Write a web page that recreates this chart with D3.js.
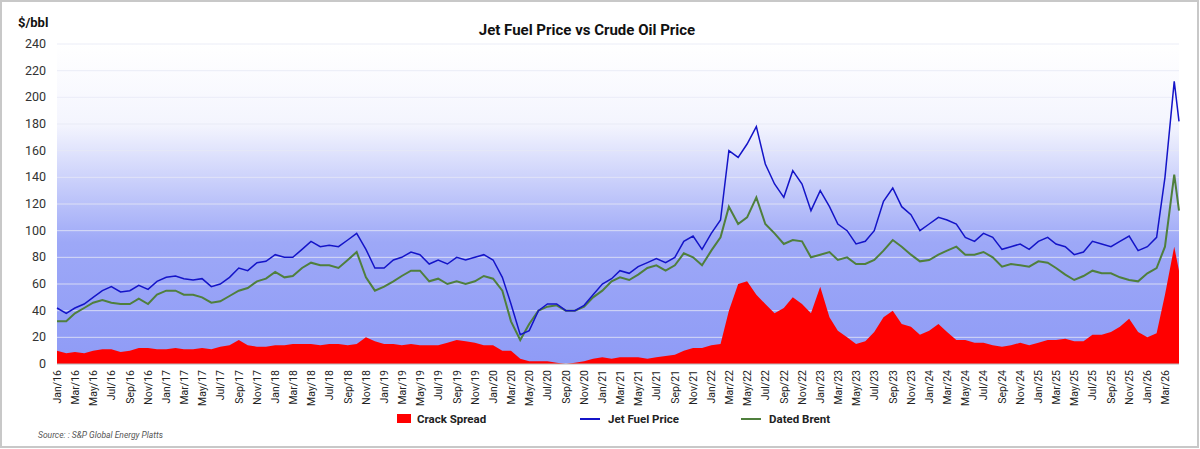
<!DOCTYPE html>
<html><head><meta charset="utf-8">
<script src="https://cdn.jsdelivr.net/npm/d3@7"></script>
<style>body{margin:0;background:#fff;font-family:Roboto,"Liberation Sans",Arial,sans-serif}</style>
</head><body><svg id="c" width="1200" height="449"></svg>
<script>
const startMonth = "2016-01";
const jetFuel = [42,38,42,45,50,55,58,54,55,59,56,62, 65,66,64,63,64,58,60,65,72,70,76,77, 82,80,80,86,92,88,89,88,93,98,86,72, 72,78,80,84,82,75,78,75,80,78,80,82, 78,65,45,22,25,40,45,45,40,40,44,52, 60,64,70,68,73,76,79,76,80,92,96,86, 98,108,160,155,165,178,150,135,125,145,135,115, 130,118,105,100,90,92,100,122,132,118,112,100, 105,110,108,105,95,92,98,95,86,88,90,86, 92,95,90,88,82,84,92,90,88,92,96,85, 88,95,140,212,182];
const brent = [32,32,38,42,46,48,46,45,45,49,45,52, 55,55,52,52,50,46,47,51,55,57,62,64, 69,65,66,72,76,74,74,72,78,84,65,55, 58,62,66,70,70,62,64,60,62,60,62,66, 64,55,32,18,30,40,43,44,40,40,43,50, 55,62,65,63,67,72,74,70,74,83,80,74, 85,95,118,105,110,125,105,98,90,93,92,80, 82,84,78,80,75,75,78,85,93,88,82,77, 78,82,85,88,82,82,84,80,73,75,74,73, 77,76,72,67,63,66,70,68,68,65,63,62, 68,72,88,142,115];
const crack = [10,8,9,8,10,11,11,9,10,12,12,11, 11,12,11,11,12,11,13,14,18,14,13,13, 14,14,15,15,15,14,15,15,14,15,20,17, 15,15,14,15,14,14,14,16,18,17,16,14, 14,10,10,4,2,2,2,1,0,1,2,4, 5,4,5,5,5,4,5,6,7,10,12,12, 14,15,40,60,62,52,45,38,42,50,45,38, 58,35,25,20,15,17,24,35,40,30,28,22, 25,30,24,18,18,16,16,14,13,14,16,14, 16,18,18,19,17,17,22,22,24,28,34,24, 20,23,52,88,70];
const yTicks = [0,20,40,60,80,100,120,140,160,180,200,220,240];

const svg = d3.select("#c");
const W=1200,H=449;
const dates = jetFuel.map((d,i)=> i<jetFuel.length-1 ? new Date(2016, i, 1) : new Date(2016, i-1, 17));
const x = d3.scaleTime().domain([new Date(2016,0,1), new Date(2026,3,17)]).range([57,1179]);
const y = d3.scaleLinear().domain([0,240]).range([364,44]);

svg.append("rect").attr("x",1).attr("y",1).attr("width",W-3).attr("height",H-3).attr("fill","#fff").attr("stroke","#c8c8c8").attr("stroke-width",2);
const defs=svg.append("defs");
const g=defs.append("linearGradient").attr("id","bg").attr("x1",0).attr("y1",0).attr("x2",0).attr("y2",1);
g.append("stop").attr("offset","0%").attr("stop-color","#ffffff");
g.append("stop").attr("offset","25%").attr("stop-color","#f4f5fe");
g.append("stop").attr("offset","62%").attr("stop-color","#9da8f7");
g.append("stop").attr("offset","100%").attr("stop-color","#8f9bf6");
svg.append("rect").attr("x",x.range()[0]).attr("y",y(240)).attr("width",x.range()[1]-x.range()[0]).attr("height",y(0)-y(240)).attr("fill","url(#bg)");

svg.append("g").selectAll("line").data(yTicks).join("line")
 .attr("x1",57).attr("x2",1179).attr("y1",d=>y(d)).attr("y2",d=>y(d)).attr("stroke","#e6e8f5").attr("stroke-width",0.8);
svg.append("g").selectAll("text").data(yTicks).join("text")
 .attr("x",46).attr("y",d=>y(d)+4).attr("text-anchor","end").attr("font-size",12.5).attr("fill","#333").text(d=>d);
svg.append("text").attr("x",18).attr("y",27).attr("font-size",13).attr("font-weight","bold").attr("fill","#111").text("$/bbl");
svg.append("text").attr("x",587).attr("y",35).attr("text-anchor","middle").attr("font-size",15).attr("font-weight","bold").attr("fill","#111").text("Jet Fuel Price vs Crude Oil Price");

const data = dates.map((d,i)=>({d, j:jetFuel[i], b:brent[i], c:crack[i]}));
svg.append("path").datum(data).attr("fill","#ff0000")
 .attr("d", d3.area().x(d=>x(d.d)).y0(y(0)).y1(d=>y(d.c)));
svg.append("path").datum(data).attr("fill","none").attr("stroke","#4f7f3c").attr("stroke-width",2)
 .attr("d", d3.line().x(d=>x(d.d)).y(d=>y(d.b)));
svg.append("path").datum(data).attr("fill","none").attr("stroke","#1414c8").attr("stroke-width",1.5)
 .attr("d", d3.line().x(d=>x(d.d)).y(d=>y(d.j)));

const xt = d3.timeMonth.every(2).range(new Date(2016,0,1), new Date(2026,3,2));
const fmt = d3.timeFormat("%b/%y");
const xa = svg.append("g").attr("transform","translate(0,364)");
xa.append("line").attr("x1",57).attr("x2",1179).attr("stroke","#bbb");
xa.selectAll("text").data(xt).join("text")
 .attr("transform",d=>`translate(${x(d)+4},6) rotate(-90)`).attr("text-anchor","end")
 .attr("font-size",10.5).attr("fill","#222").text(d=>fmt(d));

const leg=[["Crack Spread","rect","#ff0000",397],["Jet Fuel Price","line","#1414c8",588],["Dated Brent","line","#4f7f3c",749]];
leg.forEach(([t,k,c,lx])=>{
 if(k=="rect") svg.append("rect").attr("x",lx).attr("y",414).attr("width",14).attr("height",9).attr("fill",c);
 else svg.append("line").attr("x1",lx-8).attr("x2",lx+12).attr("y1",419).attr("y2",419).attr("stroke",c).attr("stroke-width",2);
 svg.append("text").attr("x",lx+20).attr("y",423).attr("font-size",11.5).attr("font-weight","bold").attr("fill","#222").text(t);
});
svg.append("text").attr("x",38).attr("y",438).attr("font-size",8.5).attr("font-style","italic").attr("fill","#555").text("Source:  : S&P Global Energy Platts");
</script></body></html>
